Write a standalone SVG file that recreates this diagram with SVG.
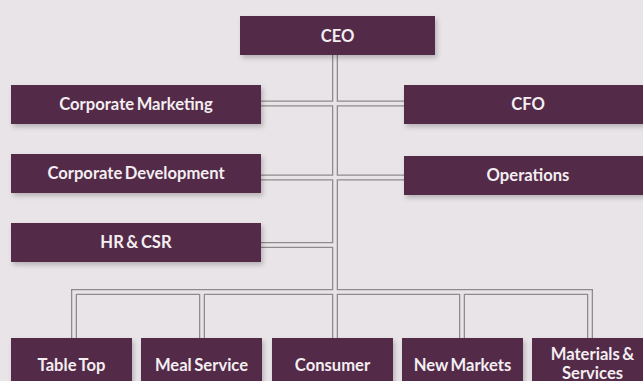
<svg xmlns="http://www.w3.org/2000/svg" width="643" height="381" viewBox="0 0 643 381">
<defs>
<filter id="sh" x="-10%" y="-30%" width="125%" height="170%">
<feDropShadow dx="2" dy="3" stdDeviation="2.5" flood-color="#000" flood-opacity="0.22"/>
</filter>
</defs>
<style>
.box{fill:#522C47;filter:url(#sh)}
.t{font-family:Lato,"Open Sans",sans-serif;font-size:16.6px;font-weight:bold;fill:#F4EEF2;text-anchor:middle;word-spacing:-1.5px}
.o{fill:none;stroke:#8E8B8D;stroke-width:6}
.i{fill:none;stroke:#E9E4E8;stroke-width:3.4}
</style>
<rect width="643" height="381" fill="#E9E4E8"/>
<g id="connectors">
<path class="o" d="M335 55V292M261 103.5H404M261 177.5H404M261 245H335M74 338V292H590V338M202 292V338M462 292V338M335 292V338"/>
<path class="i" d="M335 55V292M261 103.5H404M261 177.5H404M261 245H335M74 338V292H590V338M202 292V338M462 292V338M335 292V338"/>
</g>
<g id="ceo"><rect class="box" x="240" y="16" width="195" height="39"/><text class="t" x="337.5" y="41.7">CEO</text></g>
<g id="corp-marketing"><rect class="box" x="11" y="85" width="250" height="39"/><text class="t" x="136" y="110">Corporate Marketing</text></g>
<g id="corp-development"><rect class="box" x="11" y="154" width="250" height="39"/><text class="t" x="136" y="179">Corporate Development</text></g>
<g id="hr-csr"><rect class="box" x="11" y="223" width="250" height="39"/><text class="t" x="136" y="248">HR &amp; CSR</text></g>
<g id="cfo"><rect class="box" x="404" y="85" width="248" height="39"/><text class="t" x="528" y="110">CFO</text></g>
<g id="operations"><rect class="box" x="404" y="156" width="248" height="39"/><text class="t" x="528" y="181">Operations</text></g>
<g id="table-top"><rect class="box" x="11" y="338" width="121" height="50"/><text class="t" x="71.5" y="371">Table Top</text></g>
<g id="meal-service"><rect class="box" x="141" y="338" width="121" height="50"/><text class="t" x="201.5" y="371">Meal Service</text></g>
<g id="consumer"><rect class="box" x="272" y="338" width="121" height="50"/><text class="t" x="332.5" y="371">Consumer</text></g>
<g id="new-markets"><rect class="box" x="402" y="338" width="121" height="50"/><text class="t" x="462.5" y="371">New Markets</text></g>
<g id="materials"><rect class="box" x="532" y="338" width="121" height="50"/><text class="t" x="592.5" y="360"><tspan x="592.5">Materials &amp;</tspan><tspan x="592.5" dy="18.5">Services</tspan></text></g>
</svg>
